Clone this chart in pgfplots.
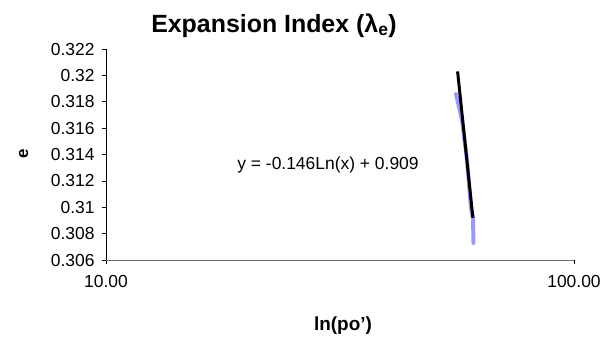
\documentclass[border=0pt]{standalone}
\usepackage{pgfplots}
\pgfplotsset{compat=1.18}
\usepackage{fontspec}
\setmainfont{Liberation Sans}
\definecolor{dblue}{RGB}{153,153,255}
\definecolor{axgray}{RGB}{110,110,110}
\begin{document}
\begin{tikzpicture}[x=1bp,y=1bp]
\useasboundingbox (0,0) rectangle (610,336);
\begin{axis}[
  at={(106bp,76bp)}, anchor=south west,
  scale only axis, width=468bp, height=211bp,
  xmode=log, xmin=10, xmax=100,
  ymin=0.306, ymax=0.322,
  axis x line*=bottom, axis y line*=left,
  x axis line style={axgray, line width=1pt},
  y axis line style={black, line width=0.8pt},
  xtick={10,100}, xticklabels={10.00,100.00},
  ytick={0.306,0.308,0.31,0.312,0.314,0.316,0.318,0.32,0.322},
  yticklabels={0.306,0.308,0.31,0.312,0.314,0.316,0.318,0.32,0.322},
  minor xtick={}, log basis x=10,
  tick align=outside, major tick length=4bp,
  tick style={black, line width=0.6pt},
  xticklabel style={font=\fontsize{17.5}{20}\selectfont, yshift=-8bp},
  yticklabel style={font=\fontsize{17.5}{20}\selectfont, xshift=-4bp},
  clip=false,
]
\addplot[dblue, line width=4pt, line cap=round, line join=round] coordinates {
  (55.97,0.31858) (57.64,0.31661) (59.08,0.31358) (60.25,0.30992) (60.84,0.30918) (60.99,0.30729)
};
\addplot[black, line width=3pt] coordinates {
  (56.4,0.3203) (60.8,0.3092)
};
\end{axis}
\node[anchor=base, font=\fontsize{25}{29}\selectfont\bfseries] at (274,304) {Expansion Index (λ\textsubscript{e})};
\node[anchor=base, font=\fontsize{19}{22}\selectfont\bfseries] at (343,6) {ln(po')};
\node[anchor=base, rotate=90, font=\fontsize{17}{20}\selectfont\bfseries] at (28,182) {e};
\node[anchor=base, font=\fontsize{17.5}{20}\selectfont] at (328,167) {y = -0.146Ln(x) + 0.909};
\end{tikzpicture}
\end{document}
